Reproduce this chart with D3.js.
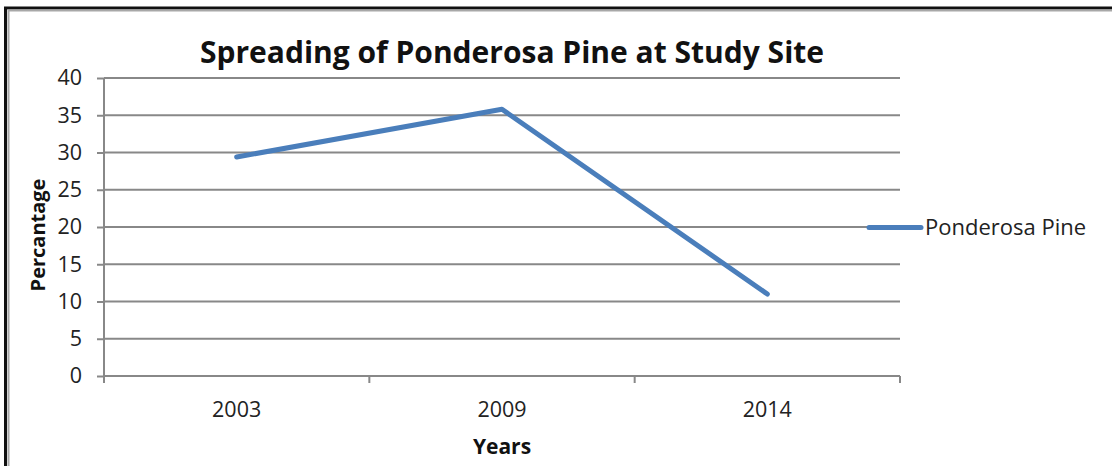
<!DOCTYPE html>
<html><head><meta charset="utf-8">
<script src="https://cdn.jsdelivr.net/npm/d3@7"></script>
<style>body{margin:0;background:#fff}svg{display:block}</style>
</head><body>
<svg id="c" width="1112" height="466"></svg>
<script>
const years = ["2003", "2009", "2014"];
const values = [29.4, 35.8, 11.0];
const yTicks = [0, 5, 10, 15, 20, 25, 30, 35, 40];
const seriesName = "Ponderosa Pine";
const titleText = "Spreading of Ponderosa Pine at Study Site";
const xTitle = "Years";
const yTitle = "Percantage";

const svg = d3.select("#c");
const font = "'Open Sans', sans-serif";
const m = {left: 104, right: 900, top: 78, bottom: 376};
const x = d3.scaleBand().domain(years).range([m.left, m.right]);
const y = d3.scaleLinear().domain([0, 40]).range([m.bottom, m.top]);

// frame
svg.append("path").attr("d", "M5.5,466 V8 H1112").attr("fill", "none").attr("stroke", "#111").attr("stroke-width", 3);
svg.append("path").attr("d", "M8.5,466 V10.5 H1112").attr("fill", "none").attr("stroke", "#a8a8a8").attr("stroke-width", 2);

// gridlines
svg.append("g").selectAll("line").data(yTicks.filter(d => d > 0)).join("line")
  .attr("x1", m.left).attr("x2", m.right).attr("y1", d => y(d)).attr("y2", d => y(d))
  .attr("stroke", "#888").attr("stroke-width", 2);

// y axis
const ya = svg.append("g").attr("transform", `translate(${m.left},0)`)
  .call(d3.axisLeft(y).tickValues(yTicks).tickSize(7).tickPadding(15));
ya.select(".domain").attr("stroke", "#888").attr("stroke-width", 2).attr("d", `M0,${m.top}V${m.bottom}`);
ya.selectAll(".tick line").attr("stroke", "#888").attr("stroke-width", 2);
ya.selectAll("text").attr("font-family", font).attr("font-size", 21.5).attr("fill", "#222");

// x axis
const xa = svg.append("g").attr("transform", `translate(0,${m.bottom})`)
  .call(d3.axisBottom(x).tickSize(0).tickPadding(26));
xa.select(".domain").attr("stroke", "#888").attr("stroke-width", 2).attr("d", `M${m.left},0H${m.right}`);
xa.selectAll("text").attr("font-family", font).attr("font-size", 21.5).attr("fill", "#222");
const bounds = years.map(d => x(d)).concat([x(years[years.length-1]) + x.bandwidth()]);
xa.append("g").selectAll("line").data(bounds).join("line")
  .attr("x1", d => d).attr("x2", d => d).attr("y1", 0).attr("y2", 7)
  .attr("stroke", "#888").attr("stroke-width", 2);

// line
const line = d3.line().x((d, i) => x(years[i]) + x.bandwidth() / 2).y(d => y(d));
svg.append("path").datum(values).attr("d", line).attr("fill", "none")
  .attr("stroke", "#4a7ebb").attr("stroke-width", 5).attr("stroke-linecap", "round").attr("stroke-linejoin", "round");

// titles
svg.append("text").attr("x", 512).attr("y", 63).attr("text-anchor", "middle")
  .attr("font-family", font).attr("font-weight", "bold").attr("font-size", 30).attr("fill", "#111").text(titleText);
svg.append("text").attr("x", 502).attr("y", 454).attr("text-anchor", "middle")
  .attr("font-family", font).attr("font-weight", "bold").attr("font-size", 21).attr("fill", "#111").text(xTitle);
svg.append("text").attr("transform", "translate(45,235) rotate(-90)").attr("text-anchor", "middle")
  .attr("font-family", font).attr("font-weight", "bold").attr("font-size", 20).attr("fill", "#111").text(yTitle);

// legend
svg.append("line").attr("x1", 869).attr("x2", 921).attr("y1", 227.5).attr("y2", 227.5)
  .attr("stroke", "#4a7ebb").attr("stroke-width", 5).attr("stroke-linecap", "round");
svg.append("text").attr("x", 925).attr("y", 235).attr("font-family", font).attr("font-size", 22).attr("fill", "#222").text(seriesName);
</script>
</body></html>
